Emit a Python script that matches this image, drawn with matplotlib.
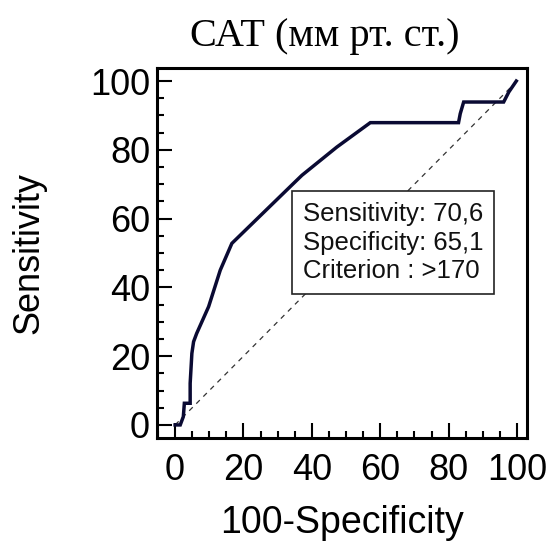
import matplotlib
matplotlib.use("Agg")
import matplotlib.pyplot as plt
from matplotlib.ticker import MultipleLocator

# ROC curve points (100-Specificity, Sensitivity)
fpr = [0, 1.5, 2.4, 2.7, 4.4, 4.4, 4.9, 5.4, 6.3, 9.8, 13.2, 16.6,
       34.6, 37.1, 47.3, 57.1, 82.9, 83.4, 84.4, 96.1, 97.6, 99.8]
tpr = [0, 0, 2.4, 6.3, 6.3, 12.1, 20.8, 24.2, 26.6, 34.4, 45.0, 52.8,
       70.2, 72.6, 80.8, 87.9, 87.9, 90.5, 93.9, 93.9, 96.8, 100]
ref_line = [0, 100]
ticks = [0, 20, 40, 60, 80, 100]

title = "САТ (мм рт. ст.)"
info = "Sensitivity: 70,6\nSpecificity: 65,1\nCriterion : >170"

plt.rcParams["font.family"] = ["Liberation Sans", "DejaVu Sans"]

fig = plt.figure(figsize=(5.48, 5.46), dpi=100)
ax = fig.add_axes([0.2865, 0.1978, 0.675, 0.6777])

ax.plot(ref_line, ref_line, color="#333333", lw=0.9, ls=(0, (4, 4)), zorder=1)
ax.plot(fpr, tpr, color="#0a0a33", lw=2.5, solid_joinstyle="miter", zorder=3)

ax.text(37.4, 53.0, info, fontsize=18.5, va="center", ha="left", linespacing=1.25,
        color="#111111", zorder=4,
        bbox=dict(boxstyle="square,pad=0.42", fc="white", ec="#222222", lw=1.2))

ax.set_xlim(-5.3, 102.9)
ax.set_ylim(-3.8, 103.8)
ax.set_xticks(ticks)
ax.set_yticks(ticks)
ax.xaxis.set_minor_locator(MultipleLocator(5))
ax.yaxis.set_minor_locator(MultipleLocator(5))
ax.tick_params(which="both", direction="in", width=1.5, labelsize=26, color="black")
ax.tick_params(which="major", length=11)
ax.tick_params(which="minor", length=5)
ax.tick_params(axis="x", pad=11)
ax.tick_params(axis="y", pad=5)
for s in ax.spines.values():
    s.set_linewidth(2.2)

ax.set_xlabel("100-Specificity", fontsize=27, labelpad=12)
ax.set_ylabel("Sensitivity", fontsize=26, labelpad=31)
fig.text(0.593, 0.934, title, fontsize=29, family="Liberation Serif",
         ha="center", va="center")

fig.savefig("out.png", dpi=100)
